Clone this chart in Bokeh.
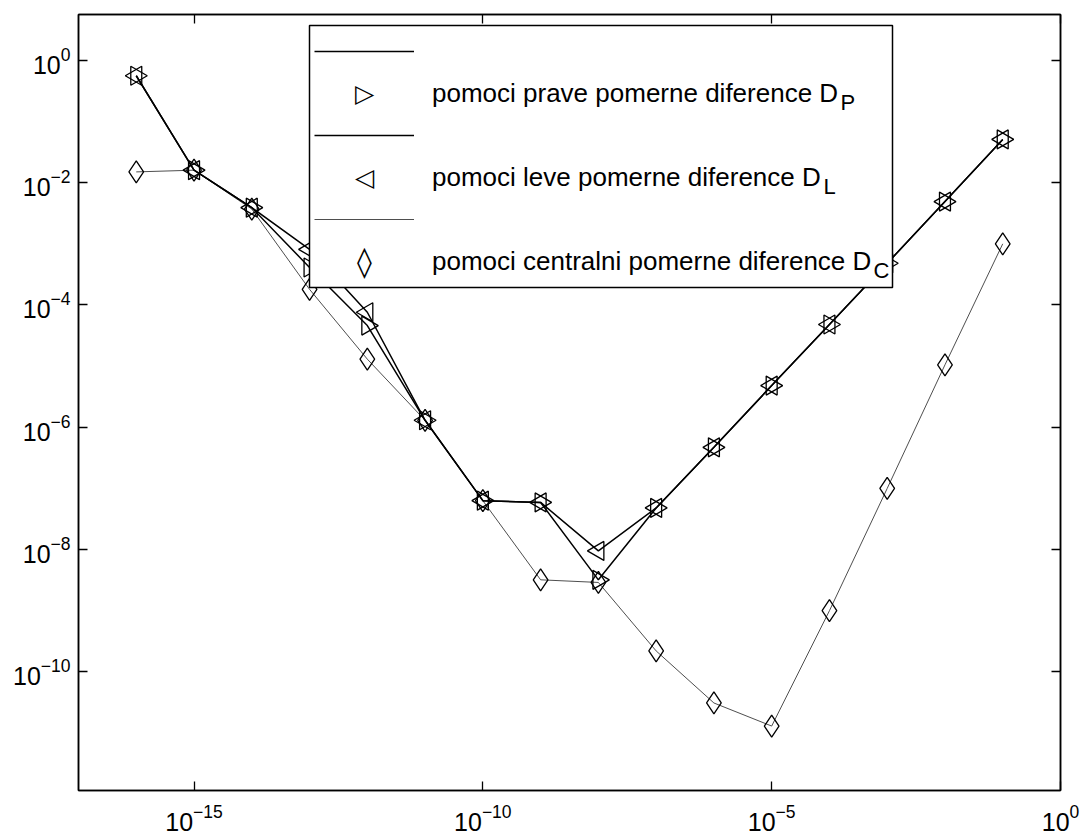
import numpy as np
from bokeh.plotting import figure
from bokeh.models import (Range1d, FixedTicker, LogAxis, Legend, LegendItem, Label,
                          CustomJSTickFormatter, LogTickFormatter, BoxAnnotation)
from bokeh.embed import file_html
from bokeh.resources import INLINE

# ---- data ----
h = [1e-16, 1e-15, 1e-14, 1e-13, 1e-12, 1e-11, 1e-10, 1e-9,
     1e-8, 1e-7, 1e-6, 1e-5, 1e-4, 1e-3, 1e-2, 1e-1]
d_p = [5.6e-1, 1.6e-2, 3.9e-3, 4.1e-4, 4.6e-5, 1.3e-6, 6.3e-8, 5.9e-8,
       3.2e-9, 4.8e-8, 4.7e-7, 4.8e-6, 4.8e-5, 4.8e-4, 4.9e-3, 5.1e-2]
d_l = [5.6e-1, 1.6e-2, 3.9e-3, 8.1e-4, 7.6e-5, 1.3e-6, 6.3e-8, 5.9e-8,
       9.5e-9, 4.8e-8, 4.7e-7, 4.8e-6, 4.8e-5, 4.8e-4, 4.9e-3, 5.1e-2]
d_c = [1.5e-2, 1.6e-2, 3.7e-3, 1.8e-4, 1.3e-5, 1.3e-6, 6.3e-8, 3.2e-9,
       2.9e-9, 2.2e-10, 3.1e-11, 1.3e-11, 1.0e-9, 1.0e-7, 1.05e-5, 1.0e-3]

x_ticks = [1e-15, 1e-10, 1e-5, 1e0]
y_ticks = [1e0, 1e-2, 1e-4, 1e-6, 1e-8, 1e-10]

labels = ["pomoci prave pomerne diference D",
          "pomoci leve pomerne diference D",
          "pomoci centralni pomerne diference D"]
subs = ["P", "L", "C"]
legend_symbols = ["\u25B7", "\u25C1", "\u25CA"]

FONT = "Liberation Sans"

# frame geometry in canvas pixels
F_LEFT, F_BOTTOM = 78, 790

p = figure(width=1084, height=839, x_axis_type="log", y_axis_type="log",
           x_range=Range1d(1e-17, 1e0), y_range=Range1d(10 ** -11.94, 10 ** 0.75),
           output_backend="svg", toolbar_location=None,
           min_border_left=78, min_border_right=24, min_border_top=14, min_border_bottom=49)
p.grid.visible = False
p.outline_line_color = "black"
p.outline_line_width = 1.5
p.background_fill_color = "white"
p.border_fill_color = "white"

bottom_ax = p.below[0]
left_ax = p.left[0]
top_ax = LogAxis()
right_ax = LogAxis()
p.add_layout(top_ax, "above")
p.add_layout(right_ax, "right")

for ax, ticks in [(bottom_ax, x_ticks), (top_ax, x_ticks), (left_ax, y_ticks), (right_ax, y_ticks)]:
    ax.ticker = FixedTicker(ticks=ticks, minor_ticks=[])
    ax.major_tick_in = 9
    ax.major_tick_out = 0
    ax.major_tick_line_width = 1.3
    ax.major_tick_line_color = "black"
    ax.minor_tick_line_color = None
    ax.axis_line_width = 1.5
    ax.axis_line_color = "black"

for ax in (top_ax, right_ax):
    ax.formatter = CustomJSTickFormatter(code="return ''")
    ax.major_label_text_font_size = "0px"
    ax.major_label_standoff = 0

for ax in (bottom_ax, left_ax):
    ax.formatter = LogTickFormatter()
    ax.major_label_text_font = FONT
    ax.major_label_text_font_size = "25px"
    ax.major_label_text_color = "black"
bottom_ax.major_label_standoff = 13
left_ax.major_label_standoff = 8

# ---- series ----
l_c = p.line(h, d_c, line_color="#3a3a3a", line_width=0.9)
s_c = p.scatter(h, d_c, marker="diamond", size=22, fill_color=None,
                line_color="black", line_width=1.3)
l_l = p.line(h, d_l, line_color="black", line_width=1.5)
s_l = p.scatter(h, d_l, marker="triangle", angle=np.pi / 2, size=19, fill_color=None,
                line_color="black", line_width=1.3)
l_p = p.line(h, d_p, line_color="black", line_width=1.5)
s_p = p.scatter(h, d_p, marker="triangle", angle=-np.pi / 2, size=19, fill_color=None,
                line_color="black", line_width=1.3)

# invisible stand-ins for the legend symbols (legend ignores marker angle)
g_p = p.scatter(h[:1], d_p[:1], size=0, fill_alpha=0, line_alpha=0)
g_l = p.scatter(h[:1], d_l[:1], size=0, fill_alpha=0, line_alpha=0)
g_c = p.scatter(h[:1], d_c[:1], size=0, fill_alpha=0, line_alpha=0)

# legend box (white, covers the lines behind it)
box = BoxAnnotation(left=309 - F_LEFT, right=892 - F_LEFT,
                    top=F_BOTTOM - 25, bottom=F_BOTTOM - 287,
                    left_units="screen", right_units="screen",
                    top_units="screen", bottom_units="screen",
                    fill_color="white", fill_alpha=1.0,
                    line_color="black", line_width=1.5, line_alpha=1.0)
p.add_layout(box)

legend = Legend(items=[
    LegendItem(label="", renderers=[l_p]),
    LegendItem(label=labels[0], renderers=[g_p]),
    LegendItem(label="", renderers=[l_l]),
    LegendItem(label=labels[1], renderers=[g_l]),
    LegendItem(label="", renderers=[l_c]),
    LegendItem(label=labels[2], renderers=[g_c]),
], location=(236, 508))
legend.padding = 0
legend.spacing = 0
legend.glyph_width = 100
legend.glyph_height = 42
legend.label_height = 42
legend.label_standoff = 18
legend.label_width = 455
legend.label_text_font = FONT
legend.label_text_font_size = "26px"
legend.label_text_color = "black"
legend.border_line_color = None
legend.background_fill_alpha = 0.0
legend.margin = 0
p.add_layout(legend)

# legend symbols and subscripts (screen units relative to the frame)
for sym, sy, fs in zip(legend_symbols, [93, 177, 261], ["25px", "25px", "30px"]):
    p.add_layout(Label(x=364 - F_LEFT, y=F_BOTTOM - sy, x_units="screen", y_units="screen",
                       text=sym, text_font="DejaVu Sans", text_font_size=fs,
                       text_align="center", text_baseline="middle", text_color="black",
                       level="overlay"))

sub_x = [840, 823, 873]
sub_y = [102, 186, 270]
for s, sx, sy in zip(subs, sub_x, sub_y):
    p.add_layout(Label(x=sx - F_LEFT, y=F_BOTTOM - sy, x_units="screen", y_units="screen",
                       text=s, text_font=FONT, text_font_size="22px", text_align="left",
                       text_baseline="middle", text_color="black", level="overlay"))

open("out.html", "w").write(file_html(p, INLINE))
